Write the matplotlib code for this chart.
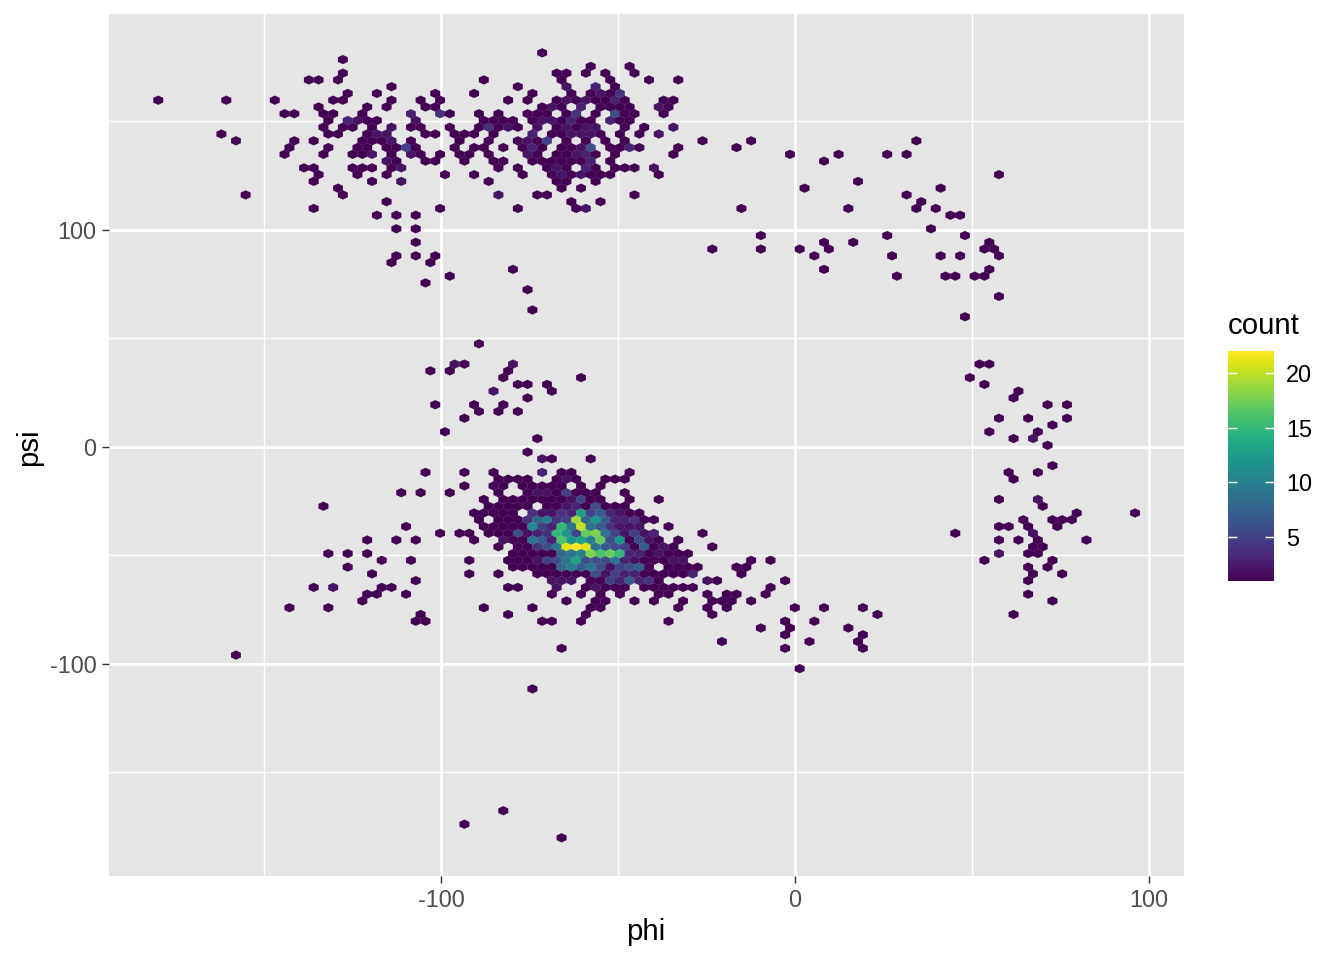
import matplotlib
matplotlib.use('Agg')
import matplotlib.pyplot as plt
import numpy as np

plt.rcParams['font.family'] = ['Liberation Sans', 'DejaVu Sans']
plt.rcParams['axes.unicode_minus'] = False

# hexbin lattice
phi_first = -179.9
phi_step = 2.746
psi_top = 181.6
psi_step = 3.118

# one entry per occupied hex row, counted from the top
hex_rows = [0, 1, 2, 3, 4, 5, 6, 7, 8, 9,
            10, 11, 12, 13, 14, 15, 16, 17, 18, 19,
            20, 21, 22, 23, 24, 26, 27, 28, 29, 30,
            31, 32, 33, 34, 35, 36, 38, 39, 43, 46,
            47, 48, 49, 50, 51, 52, 53, 54, 55, 56,
            57, 58, 59, 60, 61, 62, 63, 64, 65, 66,
            67, 68, 69, 70, 71, 72, 73, 74, 75, 76,
            77, 78, 79, 80, 81, 82, 83, 84, 85, 86,
            87, 88, 89, 91, 94, 112, 114, 116]

hex_cols = [
    [39],
    [19],
    [44, 48],
    [19, 41, 42, 44, 46, 49],
    [15, 16, 18, 33, 41, 46, 50, 53],
    [24, 37, 42, 45, 47],
    [19, 22, 28, 32, 38, 42, 44, 45, 46, 47],
    [0, 7, 12, 18, 19, 24, 27, 29, 36, 38, 41, 42, 43, 44, 45, 46, 47, 48, 52, 53],
    [16, 21, 23, 27, 28, 39, 40, 41, 43, 45, 46, 47, 48, 51, 52],
    [13, 14, 17, 18, 21, 26, 29, 30, 33, 35, 38, 39, 40, 42, 43, 45, 47, 48, 49, 52],
    [17, 19, 20, 21, 22, 26, 33, 34, 35, 36, 38, 39, 40, 41, 42, 43, 44, 46, 47, 48],
    [17, 19, 20, 22, 24, 26, 27, 30, 33, 34, 35, 36, 37, 39, 41, 42, 43, 44, 45, 48, 50, 53],
    [6, 17, 18, 21, 22, 23, 27, 28, 30, 31, 32, 34, 38, 40, 41, 42, 43, 44, 45, 47, 49, 51],
    [8, 14, 16, 21, 22, 23, 24, 26, 31, 34, 37, 38, 39, 40, 42, 44, 46, 48, 56, 61, 78],
    [13, 17, 20, 21, 23, 24, 25, 26, 30, 32, 33, 35, 37, 38, 39, 41, 42, 43, 44, 46, 47, 48, 49, 53, 59],
    [13, 17, 20, 21, 22, 24, 26, 27, 29, 31, 32, 34, 38, 39, 41, 42, 43, 44, 45, 47, 53, 65, 70, 75, 77],
    [23, 24, 27, 28, 31, 34, 35, 38, 39, 40, 41, 42, 43, 44, 46, 68],
    [15, 16, 20, 21, 22, 24, 25, 35, 37, 40, 41, 42, 44, 45, 47, 48, 49, 51],
    [16, 20, 23, 29, 32, 37, 40, 41, 42, 43, 44, 45, 46, 51, 86],
    [16, 22, 25, 34, 41, 42, 45, 72],
    [18, 41, 43, 66, 80],
    [9, 19, 35, 39, 40, 49, 77],
    [23, 42, 45, 78],
    [16, 29, 37, 43, 44, 60, 71, 78, 80],
    [22, 24, 26, 81, 82],
    [24, 26, 79],
    [62, 75, 83],
    [26, 68, 71, 85],
    [57, 62, 66, 69, 85, 86],
    [24, 26, 28, 67, 75, 80, 82, 86],
    [24, 28],
    [36, 68, 85],
    [30, 76, 81, 82, 84, 85],
    [27],
    [38],
    [86],
    [38],
    [83],
    [33],
    [30, 31, 36, 84, 85],
    [28, 30, 36],
    [35, 43, 83],
    [37, 38, 40, 85],
    [34, 40, 88],
    [38, 88],
    [28, 32, 35, 91, 93],
    [33, 35, 37],
    [31, 86, 89, 93],
    [92],
    [29, 85, 90],
    [39, 88, 90],
    [91],
    [38],
    [39, 40, 44],
    [92],
    [27, 31, 34, 39, 41, 42, 48, 87, 90],
    [35, 36, 37, 38, 41, 42, 43, 46, 47, 48, 88],
    [31, 34, 35, 37, 38, 39, 40, 41, 43, 45],
    [25, 27, 30, 35, 38, 39, 40, 41, 42, 43, 44, 45, 48],
    [33, 35, 36, 37, 38, 39, 40, 41, 42, 43, 44, 45, 48, 51, 86, 90],
    [17, 34, 35, 36, 37, 38, 40, 41, 42, 43, 44, 45, 46, 47, 48, 91],
    [32, 33, 34, 35, 36, 38, 39, 40, 41, 42, 43, 44, 45, 46, 47, 48, 49, 94, 100],
    [33, 35, 36, 37, 38, 39, 40, 41, 42, 43, 44, 45, 46, 47, 48, 49, 50, 51, 89, 92, 93, 94],
    [25, 33, 34, 35, 36, 37, 38, 39, 40, 41, 42, 43, 44, 45, 46, 47, 48, 49, 52, 86, 87, 89, 92],
    [29, 31, 32, 34, 35, 36, 37, 38, 39, 40, 41, 42, 43, 44, 45, 46, 47, 48, 49, 50, 51, 56, 82, 90],
    [21, 24, 26, 32, 35, 36, 37, 38, 39, 40, 41, 42, 43, 44, 45, 46, 47, 48, 49, 50, 51, 53, 86, 88, 90, 95],
    [35, 37, 38, 39, 40, 41, 42, 43, 44, 45, 46, 47, 48, 49, 50, 51, 52, 53, 57, 90, 91],
    [17, 19, 21, 36, 37, 38, 39, 40, 41, 42, 43, 44, 45, 46, 47, 48, 49, 50, 51, 52, 53, 54, 86, 89, 90],
    [23, 26, 32, 36, 37, 38, 39, 40, 41, 42, 43, 44, 45, 46, 47, 48, 49, 50, 51, 52, 53, 54, 61, 63, 85, 92],
    [19, 36, 37, 38, 39, 40, 41, 42, 43, 44, 45, 46, 47, 48, 49, 50, 52, 53, 54, 55, 59, 60, 89, 91],
    [22, 32, 35, 39, 40, 41, 42, 43, 44, 45, 46, 47, 48, 49, 50, 51, 52, 53, 54, 55, 60, 90, 93],
    [26, 40, 41, 42, 44, 45, 46, 47, 48, 49, 50, 51, 56, 57, 64, 89],
    [16, 18, 23, 24, 36, 37, 41, 44, 45, 46, 47, 48, 50, 51, 52, 53, 54, 55, 63],
    [21, 22, 25, 40, 43, 45, 47, 51, 52, 56, 58, 59, 62, 89],
    [21, 42, 45, 46, 49, 51, 54, 57, 58, 59, 61, 92],
    [13, 17, 33, 38, 44, 45, 53, 56, 58, 65, 68, 72],
    [27, 36, 44, 57, 74, 88],
    [26, 27, 39, 40, 43, 52, 64, 67],
    [62, 65, 71],
    [64, 72],
    [58, 67, 72],
    [41, 64, 72],
    [8],
    [66],
    [38],
    [35],
    [31],
    [41],
]

hex_counts = [
    [1],
    [1],
    [1, 1],
    [1, 1, 1, 1, 1, 1],
    [1, 1, 1, 1, 1, 1, 1, 1],
    [1, 1, 2, 3, 1],
    [1, 1, 1, 1, 1, 1, 1, 2, 1, 4],
    [1, 1, 1, 1, 1, 1, 1, 1, 1, 1, 1, 2, 1, 2, 1, 1, 3, 1, 1, 1],
    [1, 1, 1, 1, 1, 1, 2, 1, 3, 1, 1, 1, 1, 2, 1],
    [1, 1, 1, 1, 1, 3, 4, 1, 1, 1, 1, 1, 1, 1, 4, 1, 6, 1, 1, 1],
    [1, 3, 2, 1, 1, 2, 1, 1, 1, 1, 1, 2, 2, 1, 3, 1, 1, 3, 1, 1],
    [1, 1, 1, 1, 2, 1, 1, 1, 1, 4, 1, 2, 1, 2, 1, 2, 1, 2, 2, 1, 1, 2],
    [1, 1, 1, 1, 2, 2, 1, 1, 1, 1, 1, 1, 3, 1, 1, 2, 2, 2, 1, 1, 1, 2],
    [1, 1, 1, 1, 1, 1, 2, 1, 1, 1, 1, 2, 1, 5, 1, 1, 1, 1, 1, 1, 1],
    [1, 1, 1, 1, 1, 1, 5, 1, 1, 1, 1, 1, 1, 3, 1, 1, 1, 2, 6, 1, 1, 3, 1, 1, 1],
    [1, 1, 1, 1, 2, 1, 2, 1, 1, 1, 1, 1, 2, 1, 1, 1, 2, 3, 1, 1, 1, 1, 1, 1, 1],
    [2, 1, 1, 1, 1, 1, 1, 1, 1, 1, 1, 1, 1, 3, 1, 1],
    [1, 1, 1, 1, 1, 1, 2, 1, 1, 1, 2, 1, 3, 1, 1, 1, 1, 2],
    [1, 1, 1, 1, 1, 1, 1, 2, 1, 2, 1, 1, 1, 1, 1],
    [1, 1, 2, 1, 1, 1, 1, 1],
    [1, 1, 1, 1, 1],
    [1, 1, 2, 1, 1, 1, 1],
    [1, 1, 1, 1],
    [1, 1, 1, 1, 2, 1, 1, 1, 1],
    [1, 1, 1, 1, 1],
    [1, 1, 1],
    [1, 1, 1],
    [1, 1, 1, 1],
    [1, 1, 1, 1, 1, 1],
    [1, 1, 1, 1, 1, 1, 1, 1],
    [1, 1],
    [1, 1, 1],
    [1, 1, 1, 1, 1, 1],
    [1],
    [1],
    [1],
    [1],
    [1],
    [1],
    [2, 1, 2, 1, 1],
    [1, 1, 1],
    [1, 1, 1],
    [1, 1, 1, 1],
    [2, 1, 1],
    [1, 1],
    [1, 1, 1, 1, 1],
    [1, 1, 1],
    [1, 1, 1, 1],
    [1],
    [1, 1, 1],
    [1, 1, 2],
    [1],
    [1],
    [2, 1, 1],
    [1],
    [1, 1, 1, 3, 1, 1, 1, 1, 1],
    [1, 1, 1, 1, 1, 2, 1, 1, 1, 1, 1],
    [1, 1, 1, 1, 1, 1, 1, 1, 1, 1],
    [1, 1, 1, 1, 1, 2, 2, 1, 5, 1, 1, 1, 1],
    [1, 1, 1, 1, 1, 1, 1, 1, 2, 5, 1, 1, 1, 1, 1, 2],
    [1, 1, 1, 1, 1, 1, 1, 1, 2, 3, 1, 6, 1, 1, 1, 1],
    [1, 1, 1, 1, 1, 4, 2, 2, 4, 3, 13, 5, 7, 3, 2, 1, 1, 1, 1],
    [1, 1, 1, 1, 4, 8, 10, 4, 5, 19, 8, 12, 7, 3, 3, 4, 1, 1, 1, 1, 1, 1],
    [1, 1, 1, 1, 1, 1, 11, 5, 3, 15, 9, 20, 9, 7, 4, 2, 2, 2, 1, 1, 1, 1, 1],
    [1, 1, 1, 1, 1, 1, 6, 2, 3, 4, 15, 12, 5, 17, 18, 9, 5, 2, 5, 2, 3, 1, 1, 2],
    [1, 1, 1, 1, 2, 1, 1, 9, 7, 3, 16, 12, 13, 10, 17, 6, 12, 1, 6, 2, 1, 1, 1, 1, 1, 1],
    [1, 1, 1, 4, 6, 9, 21, 22, 21, 9, 7, 6, 5, 1, 7, 1, 2, 1, 1, 1, 1],
    [1, 1, 1, 1, 1, 1, 1, 1, 8, 9, 10, 18, 16, 17, 15, 3, 3, 1, 2, 1, 1, 1, 2, 1, 1],
    [1, 1, 1, 1, 1, 1, 2, 5, 6, 9, 13, 6, 6, 6, 9, 3, 2, 1, 1, 1, 2, 2, 1, 1, 1, 1],
    [1, 1, 1, 1, 1, 1, 8, 10, 7, 9, 6, 2, 5, 6, 7, 1, 1, 1, 1, 1, 1, 1, 1, 1],
    [1, 1, 1, 1, 1, 1, 1, 1, 1, 6, 2, 5, 3, 3, 1, 1, 1, 1, 1, 3, 1, 1, 1],
    [1, 2, 2, 2, 1, 1, 5, 3, 7, 3, 4, 1, 2, 1, 1, 1],
    [1, 2, 1, 1, 1, 1, 2, 1, 2, 1, 1, 1, 1, 1, 1, 1, 1, 1, 1],
    [1, 1, 1, 1, 1, 1, 1, 1, 1, 1, 1, 1, 1, 1],
    [1, 1, 1, 1, 1, 1, 1, 1, 1, 1, 1, 1],
    [1, 1, 1, 1, 1, 1, 1, 1, 1, 1, 1, 1],
    [1, 1, 1, 1, 1, 1],
    [1, 1, 1, 1, 1, 1, 1, 1],
    [1, 1, 1],
    [1, 1],
    [1, 1, 1],
    [1, 1, 1],
    [1],
    [1],
    [1],
    [1],
    [1],
    [1],
]

# turn rows and columns into data values, even rows sit half a step to the right
phi = []
psi = []
count = []
for row, cols, vals in zip(hex_rows, hex_cols, hex_counts, strict=True):
    for col, val in zip(cols, vals, strict=True):
        phi.append(phi_first + phi_step * (col + (0.5 if row % 2 == 0 else 0)))
        psi.append(psi_top - psi_step * row)
        count.append(val)

fig = plt.figure(figsize=(7, 5), dpi=192, facecolor='white')
ax = fig.add_axes([109 / 1344, 1 - 876 / 960, (1184 - 109) / 1344, (876 - 14) / 960])
ax.set_facecolor('#E5E5E5')
ax.set_axisbelow(True)

# lattice of matplotlib's hexbin: odd rows on the first lattice, even rows on the second
n_x = 101
n_y = 60
x_min = phi_first
x_max = x_min + n_x * phi_step
y_min = psi_top - 117 * psi_step
y_max = y_min + n_y * 2 * psi_step
hb = ax.hexbin(phi, psi, C=count, reduce_C_function=np.sum, gridsize=(n_x, n_y),
               extent=(x_min, x_max, y_min, y_max), cmap='viridis', vmin=1, vmax=22,
               linewidths=0.08, edgecolors='face', zorder=3)

ax.set_xlim(-193.8, 109.9)
ax.set_ylim(-197.7, 199.5)

ax.set_xticks([-100, 0, 100])
ax.set_yticks([-100, 0, 100])
ax.set_xticks([-150, -50, 50], minor=True)
ax.set_yticks([-150, -50, 50, 150], minor=True)
ax.grid(which='major', color='white', linewidth=1.07)
ax.grid(which='minor', color='white', linewidth=0.53)
ax.tick_params(which='major', length=2.75, width=0.53, color='#333333', labelcolor='#4D4D4D',
               labelsize=8.8, pad=2.0)
ax.tick_params(which='minor', length=0)
for side in ax.spines.values():
    side.set_visible(False)

fig.text(646 / 1344, 1 - 932 / 960, 'phi', ha='center', va='center', fontsize=11, color='black')
fig.text(29 / 1344, 1 - 447 / 960, 'psi', ha='center', va='center', rotation=90, fontsize=11,
         color='black')

# colour bar
cax = fig.add_axes([1228 / 1344, 1 - 581 / 960, 46 / 1344, 230 / 960])
cb = fig.colorbar(hb, cax=cax)
cb.outline.set_visible(False)
cb.set_ticks([5, 10, 15, 20])
cax.yaxis.set_ticks_position('both')
cax.tick_params(which='major', direction='in', length=3.4, width=0.53, color='white',
                labelright=True, labelleft=False, labelsize=8.8, labelcolor='black', pad=4.5)
cax.minorticks_off()
fig.text(1228 / 1344, 1 - 326 / 960, 'count', ha='left', va='center', fontsize=11, color='black')

plt.savefig('out.png', dpi=192)
